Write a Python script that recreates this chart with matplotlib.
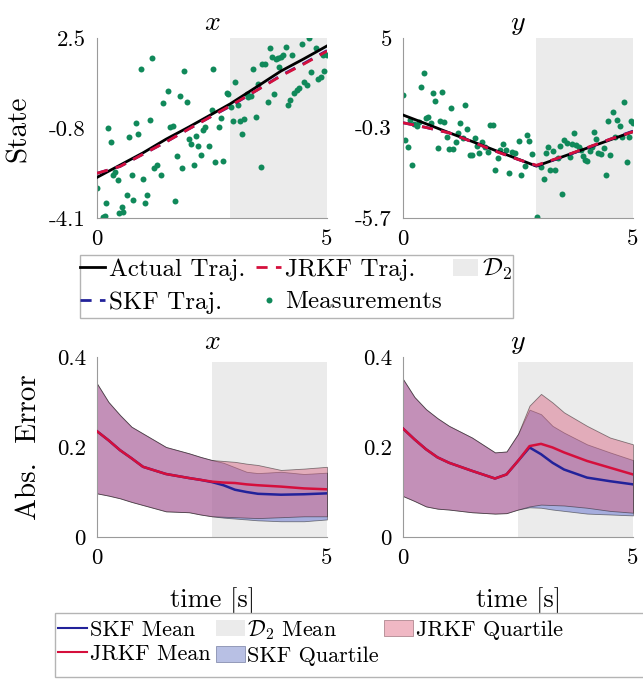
import matplotlib
matplotlib.use("Agg")
import matplotlib.pyplot as plt
import numpy as np
from matplotlib.lines import Line2D
from matplotlib.patches import Patch, Rectangle

plt.rcParams['font.family'] = 'serif'
plt.rcParams['font.serif'] = ['cmr10']
plt.rcParams['mathtext.fontset'] = 'cm'
plt.rcParams['axes.unicode_minus'] = False
plt.rcParams['axes.formatter.use_mathtext'] = True

# ---- trajectories (top row) ----
traj_t = [0.0, 0.5, 1.0, 1.5, 2.0, 2.5, 2.9, 3.5, 4.0, 4.5, 5.0]
actual_x = [-2.6, -2.15, -1.7, -1.2, -0.75, -0.28, 0.1, 0.75, 1.3, 1.75, 2.22]
jrkf_x = [-2.45, -2.2, -1.75, -1.3, -0.82, -0.35, 0.03, 0.62, 1.12, 1.56, 2.03]
skf_x = [-2.45, -2.2, -1.75, -1.3, -0.82, -0.35, 0.01, 0.62, 1.14, 1.58, 2.05]
actual_y = [0.44, -0.08, -0.61, -1.13, -1.66, -2.18, -2.6, -2.01, -1.53, -1.04, -0.55]
jrkf_y = [-0.02, -0.3, -0.62, -1.15, -1.7, -2.2, -2.55, -2.0, -1.5, -1.0, -0.55]
skf_y = [-0.02, -0.3, -0.62, -1.15, -1.7, -2.2, -2.57, -2.02, -1.52, -1.0, -0.52]

meas_x_t = [0.0, 0.123, 0.174, 0.196, 0.246, 0.297, 0.355, 0.391, 0.449, 0.486, 0.536, 0.572,
            0.659, 0.703, 0.754, 0.790, 0.848, 0.899, 0.949, 0.993, 1.043, 1.094, 1.152, 1.196,
            1.246, 1.297, 1.391, 1.442, 1.551, 1.587, 1.645, 1.696, 1.746, 1.804, 1.848, 1.899,
            1.949, 1.993, 2.051, 2.109, 2.152, 2.203, 2.254, 2.312, 2.348, 2.442, 2.493, 2.529,
            2.565, 2.652, 2.696, 2.746, 2.819, 2.855, 2.913, 2.964, 3.0, 3.072, 3.109, 3.145,
            3.203, 3.254, 3.29, 3.348, 3.399, 3.449, 3.493, 3.558, 3.594, 3.652, 3.710, 3.761,
            3.797, 3.855, 3.884, 3.928, 3.957, 4.0, 4.051, 4.101, 4.145, 4.196, 4.246, 4.290,
            4.341, 4.391, 4.449, 4.5, 4.558, 4.609, 4.652, 4.761, 4.812, 4.87, 4.920, 4.942, 5.0]
meas_x = [-2.98, -4.06, -4.02, -3.53, -0.80, -1.30, -2.52, -2.39, -2.70, -3.92, -3.67, -3.86,
          -3.25, -1.13, -2.52, -3.43, -0.59, -1.01, 1.37, -2.65, -3.53, -3.25, -0.50, 1.78,
          -2.27, -2.15, -2.51, 0.12, 0.57, -0.74, -0.72, -3.48, -1.82, 0.38, -2.26, 1.29,
          0.16, -1.18, -1.38, -2.13, -1.08, -1.45, -1.78, -0.86, -0.74, -1.45, -0.13, 1.36,
          -2.02, -0.76, -0.43, -1.99, 0.48, 0.46, -0.03, -0.52, 0.91, 0.05, -0.52, -1.01,
          -0.47, 0.46, 0.36, 0.38, 1.36, -0.37, 0.82, -2.23, 1.56, 1.56, 0.16, 2.13,
          1.83, 0.46, 1.73, 1.76, 1.46, 1.83, 1.89, 2.17, 0.06, 0.24, 1.89, 0.51,
          0.60, 0.66, 2.29, 0.91, 0.79, 2.50, 1.28, 2.13, 0.99, 1.08, 1.89, 1.31, 1.89]
meas_y_t = [0.0, 0.051, 0.101, 0.152, 0.196, 0.246, 0.297, 0.341, 0.391, 0.449, 0.5, 0.551,
            0.601, 0.652, 0.703, 0.754, 0.804, 0.848, 0.899, 0.949, 0.993, 1.051, 1.094, 1.152,
            1.196, 1.246, 1.297, 1.355, 1.399, 1.457, 1.494, 1.558, 1.601, 1.659, 1.717, 1.775,
            1.841, 1.891, 1.949, 2.0, 2.058, 2.109, 2.167, 2.239, 2.312, 2.370, 2.442, 2.514,
            2.565, 2.652, 2.696, 2.746, 2.797, 2.913, 3.0, 3.058, 3.109, 3.159, 3.203, 3.254,
            3.304, 3.362, 3.413, 3.457, 3.507, 3.565, 3.623, 3.667, 3.710, 3.768, 3.826, 3.870,
            3.913, 3.957, 4.0, 4.058, 4.116, 4.159, 4.203, 4.246, 4.304, 4.362, 4.413, 4.464,
            4.507, 4.558, 4.609, 4.652, 4.710, 4.768, 4.812, 4.870, 4.920, 4.957, 5.0]
meas_y = [1.61, -1.05, -1.48, 0.14, -2.51, -0.09, -0.21, 0.00, 2.12, 2.96, 0.24, 0.34,
          -0.05, 1.77, 1.29, -1.54, 0.10, 1.83, 0.04, -0.85, -1.56, 0.84, -1.56, -1.14,
          -0.65, -0.05, -0.95, 1.04, -0.37, -1.92, -1.94, -0.95, -1.40, -1.79, -1.14, -1.48,
          -1.74, -0.17, -0.17, -2.83, -2.12, -1.64, -1.28, -1.64, -3.03, -1.76, -1.84, -1.08,
          -3.10, -2.59, -0.77, -1.08, -1.88, -5.64, -2.63, -3.34, -1.79, -1.48, -2.83, -1.68,
          -2.83, -2.12, -1.42, -4.28, -1.05, -1.24, -2.04, -1.28, -0.61, -1.35, -1.48, -1.64,
          -1.99, -2.23, -2.27, -1.68, -1.44, -0.57, -1.01, -1.79, -1.88, -1.52, -3.10, 0.10,
          -1.95, 0.62, -0.85, 0.14, -0.22, -0.89, 1.21, -2.33, -0.89, 0.07, -0.05]

# ---- absolute errors (bottom row) ----
err_t = [0.0, 0.25, 0.5, 0.75, 1.0, 1.5, 2.0, 2.25, 2.5, 2.75, 3.0, 3.25, 3.5, 4.0, 4.5, 5.0]
jrkf_mean_x = [0.235, 0.215, 0.193, 0.175, 0.156, 0.140, 0.131, 0.127, 0.123, 0.121, 0.120, 0.117, 0.115, 0.112, 0.108, 0.106]
skf_mean_x = [0.235, 0.215, 0.193, 0.175, 0.156, 0.140, 0.131, 0.127, 0.122, 0.115, 0.105, 0.100, 0.096, 0.094, 0.095, 0.097]
jrkf_hi_x = [0.341, 0.300, 0.271, 0.245, 0.230, 0.200, 0.186, 0.178, 0.171, 0.169, 0.167, 0.163, 0.160, 0.149, 0.152, 0.156]
skf_hi_x = [0.341, 0.300, 0.271, 0.245, 0.230, 0.200, 0.186, 0.178, 0.171, 0.165, 0.155, 0.145, 0.142, 0.145, 0.140, 0.143]
jrkf_lo_x = [0.097, 0.092, 0.086, 0.078, 0.071, 0.057, 0.055, 0.050, 0.046, 0.045, 0.044, 0.043, 0.042, 0.044, 0.046, 0.046]
skf_lo_x = [0.097, 0.092, 0.086, 0.078, 0.071, 0.057, 0.055, 0.050, 0.046, 0.043, 0.041, 0.039, 0.037, 0.035, 0.035, 0.039]

jrkf_mean_y = [0.241, 0.217, 0.195, 0.177, 0.165, 0.147, 0.130, 0.139, 0.169, 0.202, 0.207, 0.199, 0.188, 0.169, 0.154, 0.139]
skf_mean_y = [0.241, 0.217, 0.195, 0.177, 0.165, 0.147, 0.130, 0.139, 0.169, 0.199, 0.184, 0.165, 0.150, 0.132, 0.124, 0.117]
jrkf_hi_y = [0.351, 0.311, 0.284, 0.264, 0.247, 0.221, 0.188, 0.190, 0.229, 0.292, 0.318, 0.299, 0.277, 0.247, 0.221, 0.206]
skf_hi_y = [0.351, 0.311, 0.284, 0.264, 0.247, 0.221, 0.188, 0.190, 0.229, 0.283, 0.273, 0.247, 0.232, 0.206, 0.188, 0.171]
jrkf_lo_y = [0.091, 0.080, 0.068, 0.063, 0.061, 0.055, 0.052, 0.053, 0.061, 0.068, 0.072, 0.071, 0.070, 0.065, 0.058, 0.054]
skf_lo_y = [0.091, 0.080, 0.068, 0.063, 0.061, 0.055, 0.052, 0.053, 0.061, 0.066, 0.065, 0.061, 0.058, 0.052, 0.050, 0.048]

d2_start_traj = 2.9
d2_start_err = 2.5

RED = '#d50f3c'
BLUE = '#22229a'
GREEN = '#10895a'
SHADE = '#ebebeb'
RED_FILL = '#d9607f'
BLUE_FILL = '#5263cc'
TICK_FS = 16.5

W, H = 643, 679
fig = plt.figure(figsize=(W / 100, H / 100), dpi=100)


def make_ax(left, top, width=230, height=180):
    return fig.add_axes([left / W, 1 - (top + height) / H, width / W, height / H])


def style(ax):
    for s in ['top', 'right']:
        ax.spines[s].set_visible(False)
    for s in ['left', 'bottom']:
        ax.spines[s].set_color('#9a9a9a')
        ax.spines[s].set_linewidth(0.8)
    ax.tick_params(length=0, labelsize=TICK_FS, pad=8)


def frame_box(x0, y0, x1, y1):
    # legend frame in pixel coords (top-left origin)
    fig.patches.append(Rectangle((x0 / W, 1 - y1 / H), (x1 - x0) / W, (y1 - y0) / H,
                                 transform=fig.transFigure, facecolor='white',
                                 edgecolor='#b4b4b4', lw=1.0, zorder=0))


ax1 = make_ax(97, 38.3)
ax2 = make_ax(403, 38.3)
ax3 = make_ax(97, 357)
ax4 = make_ax(403, 357)

# top row
for ax, act, jr, sk, mt, mv, lim, ticks, ttl in [
        (ax1, actual_x, jrkf_x, skf_x, meas_x_t, meas_x, (-4.1, 2.5), ['2.5', '-0.8', '-4.1'], '$x$'),
        (ax2, actual_y, jrkf_y, skf_y, meas_y_t, meas_y, (-5.7, 5), ['5', '-0.3', '-5.7'], '$y$')]:
    ax.axvspan(d2_start_traj, 5, color=SHADE, lw=0, zorder=0)
    ax.plot(mt, mv, 'o', color=GREEN, ms=4.3, mew=0, zorder=2)
    ax.plot(traj_t, act, color='black', lw=2, zorder=3)
    ax.plot(traj_t, sk, color=BLUE, lw=2, ls=(0, (4, 3)), zorder=4)
    ax.plot(traj_t, jr, color=RED, lw=2, ls=(0, (4, 3)), zorder=5)
    ax.set_xlim(0, 5)
    ax.set_ylim(*lim)
    ax.set_xticks([0, 5])
    ax.set_xticklabels(['0', '5'])
    ax.set_yticks([float(v) for v in ticks[::-1]])
    ax.set_yticklabels(ticks[::-1])
    ax.set_title(ttl, fontsize=20, pad=6)
    style(ax)

ax1.set_ylabel('State', fontsize=21)
ax1.yaxis.set_label_coords(-0.283, 0.5)

# bottom row
for ax, jm, sm, jh, sh, jl, sl, ttl in [
        (ax3, jrkf_mean_x, skf_mean_x, jrkf_hi_x, skf_hi_x, jrkf_lo_x, skf_lo_x, '$x$'),
        (ax4, jrkf_mean_y, skf_mean_y, jrkf_hi_y, skf_hi_y, jrkf_lo_y, skf_lo_y, '$y$')]:
    ax.fill_between([d2_start_err, 5], 0, 0.389, color=SHADE, lw=0, zorder=0)
    ax.fill_between(err_t, sl, sh, facecolor=BLUE_FILL, alpha=0.45, edgecolor='black', lw=0.6, zorder=1)
    ax.fill_between(err_t, jl, jh, facecolor=RED_FILL, alpha=0.45, edgecolor='black', lw=0.6, zorder=2)
    ax.plot(err_t, sm, color=BLUE, lw=1.8, zorder=3)
    ax.plot(err_t, jm, color=RED, lw=1.8, zorder=4)
    ax.set_xlim(0, 5)
    ax.set_ylim(0, 0.4)
    ax.set_xticks([0, 5])
    ax.set_xticklabels(['0', '5'])
    ax.set_yticks([0, 0.2, 0.4])
    ax.set_yticklabels(['0', '0.2', '0.4'])
    ax.set_title(ttl, fontsize=20, pad=6)
    ax.set_xlabel('time [s]', fontsize=19)
    ax.xaxis.set_label_coords(0.5, -0.28)
    style(ax)

ax3.set_ylabel('Abs.  Error', fontsize=21)
ax3.yaxis.set_label_coords(-0.24, 0.5)

# legends
frame_box(80, 255, 513, 318)
top_handles = [
    Line2D([], [], color='black', lw=2),
    Line2D([], [], color=BLUE, lw=2, ls=(0, (4, 3))),
    Line2D([], [], color=RED, lw=2, ls=(0, (4, 3))),
    Line2D([], [], color=GREEN, marker='o', ls='none', ms=4.3, mew=0),
    Patch(facecolor=SHADE, edgecolor='none'),
]
top_labels = ['Actual Traj.', 'SKF Traj.', 'JRKF Traj.', 'Measurements', r'$\mathcal{D}_2$']
fig.legend(top_handles, top_labels, loc='upper left', bbox_to_anchor=(80 / W, 1 - 257 / H),
           ncol=3, fontsize=18, frameon=False,
           handlelength=1.0, handletextpad=0.15, columnspacing=0.45, labelspacing=0.4,
           borderpad=0.0, borderaxespad=0)

frame_box(55, 613, 646, 677)
bot_handles = [
    Line2D([], [], color=BLUE, lw=1.5),
    Line2D([], [], color=RED, lw=1.5),
    Patch(facecolor=SHADE, edgecolor='none'),
    Patch(facecolor='#b8c0e4', edgecolor='#8890b0', lw=0.6),
    Patch(facecolor='#f0b8c4', edgecolor='#b08890', lw=0.6),
]
bot_labels = ['SKF Mean', 'JRKF Mean', r'$\mathcal{D}_2$ Mean', 'SKF Quartile', 'JRKF Quartile']
fig.legend(bot_handles, bot_labels, loc='upper left', bbox_to_anchor=(58 / W, 1 - 618 / H),
           ncol=3, fontsize=16, frameon=False,
           handlelength=1.3, handletextpad=0.12, columnspacing=0.25, labelspacing=0.2,
           borderpad=0.0, borderaxespad=0)

fig.savefig('out.png', dpi=100)
